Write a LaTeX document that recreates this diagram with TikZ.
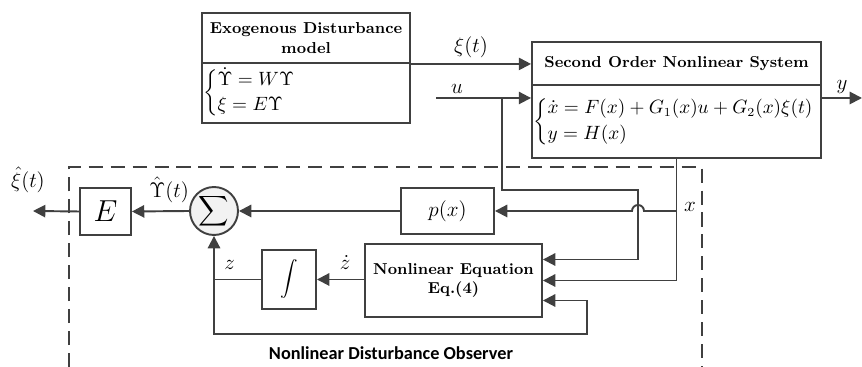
\documentclass[tikz,border=0pt]{standalone}
\usepackage{amsmath}
\usepackage{fontspec}
\usetikzlibrary{arrows.meta,positioning,calc}
\newfontfamily\obsfont{Carlito}
\definecolor{lc}{RGB}{64,64,64}
\tikzset{
  box/.style={draw=lc, line width=1.1pt, align=center, inner sep=2pt,
              font=\fontsize{9}{11}\selectfont\bfseries},
  eq/.style={inner sep=1pt, font=\fontsize{10.5}{12}\selectfont},
  sumc/.style={circle, draw=lc, line width=1.1pt, fill=gray!10, minimum size=0.96cm, inner sep=0pt},
  flow/.style={-{Triangle[length=7pt,width=7pt]}, draw=lc, line width=1.1pt},
  wire/.style={draw=lc, line width=1.1pt},
  lbl/.style={font=\fontsize{12}{14}\selectfont, inner sep=1pt},
}

\begin{document}
\begin{tikzpicture}[x=0.02cm, y=0.02cm]
  \useasboundingbox (0,0) rectangle (862,367);
  \node[box, minimum width=4.16cm, minimum height=1cm] (exoT) at (306,329) {Exogenous Disturbance\\model};
  \node[box, minimum width=4.16cm, minimum height=1.2cm] (exoB) at (306,274) {};
  \node[eq, anchor=west] (exoEq) at (exoB.west) {$\begin{cases}\dot{\Upsilon}=W\Upsilon\\ \xi=E\Upsilon\end{cases}$};
  \node[box, minimum width=5.78cm, minimum height=0.86cm] (sysT) at (676.5,303.5) {Second Order Nonlinear System};
  \node[box, minimum width=5.78cm, minimum height=1.46cm] (sysB) at (676.5,245.5) {};
  \node[eq, anchor=west] (sysEq) at (sysB.west) {$\begin{cases}\dot{x}=F(x)+G_1(x)u+G_2(x)\xi(t)\\ y=H(x)\end{cases}$};
  \node[box, minimum width=1.86cm, minimum height=0.92cm, font=\fontsize{12.5}{14}\selectfont] (px) at (447.5,156) {$p(x)$};
  \node[box, minimum width=3.54cm, minimum height=1.46cm] (ne) at (453.5,86.5) {Nonlinear Equation\\Eq.(4)};
  \node[box, minimum width=1.08cm, minimum height=1.18cm, font=\fontsize{10}{12}\selectfont] (intg) at (289,87.5) {$\displaystyle\int$};
  \node[box, minimum width=1.02cm, minimum height=0.94cm, font=\fontsize{17}{19}\selectfont] (E) at (105.5,155.5) {$E$};
  \node[sumc, font=\fontsize{13}{15}\selectfont] (sum) at (214,156) {$\displaystyle\sum$};
  \node[font=\obsfont\bfseries\fontsize{10.4}{12}\selectfont] (obs) at (391,14) {Nonlinear Disturbance Observer};
  \draw[lc, line width=0.8pt, dash pattern=on 8pt off 4.5pt] (69,0) -- (69,200) -- (702,200) -- (702,0);
  \coordinate (uin) at (436,269);
  \coordinate (uj) at (502,269);
  \coordinate (ubend) at (638,177);
  \coordinate (loopc) at (587,33);
  \coordinate (yout) at (862,269);
  \coordinate (xiout) at (33,156);
  \draw[flow] (exoT.south east) -- node[lbl, above=2pt] (xil) {$\xi(t)$} (exoT.south east -| sysT.west);
  \draw[flow] (uin) -- node[lbl, above=1pt, pos=0.22] (ul) {$u$} (uin -| sysB.west);
  \draw[flow] (sysB.east |- uin) -- node[lbl, above=1pt, pos=0.5] (yl) {$y$} (yout);
  \draw[flow] (uj) |- (ubend) |- ($(ne.east)+(0,21)$);
  \draw[flow] (sysB.south) |- (ne.east);
  \draw[flow] (sysB.south |- px.east) -- ($(ubend |- px.east)+(6,0)$) arc[start angle=0, end angle=180, radius=6] -- (px.east);
  \node[lbl] (xl) at (690,160) {$x$};
  \draw[flow] (px.west) -- (sum.east);
  \draw[flow] (sum.west) -- node[lbl, above=3.5pt, pos=0.35] (ul2) {$\hat{\Upsilon}(t)$} (E.east);
  \draw[flow] (E.west) -- (xiout);
  \node[lbl] (xihl) at (28,187) {$\hat{\xi}(t)$};
  \draw[flow] (ne.west |- intg.east) -- node[lbl, above=4pt, pos=0.4] (zdl) {$\dot{z}$} (intg.east);
  \coordinate (zj) at (sum.south |- intg.west);
  \draw[wire] (intg.west) -- node[lbl, above=4pt, pos=0.67] (zl) {$z$} (zj);
  \draw[flow] (zj) -- (sum.south);
  \draw[flow] (zj) |- (loopc) |- ($(ne.east)+(0,-20)$);
\end{tikzpicture}
\end{document}
